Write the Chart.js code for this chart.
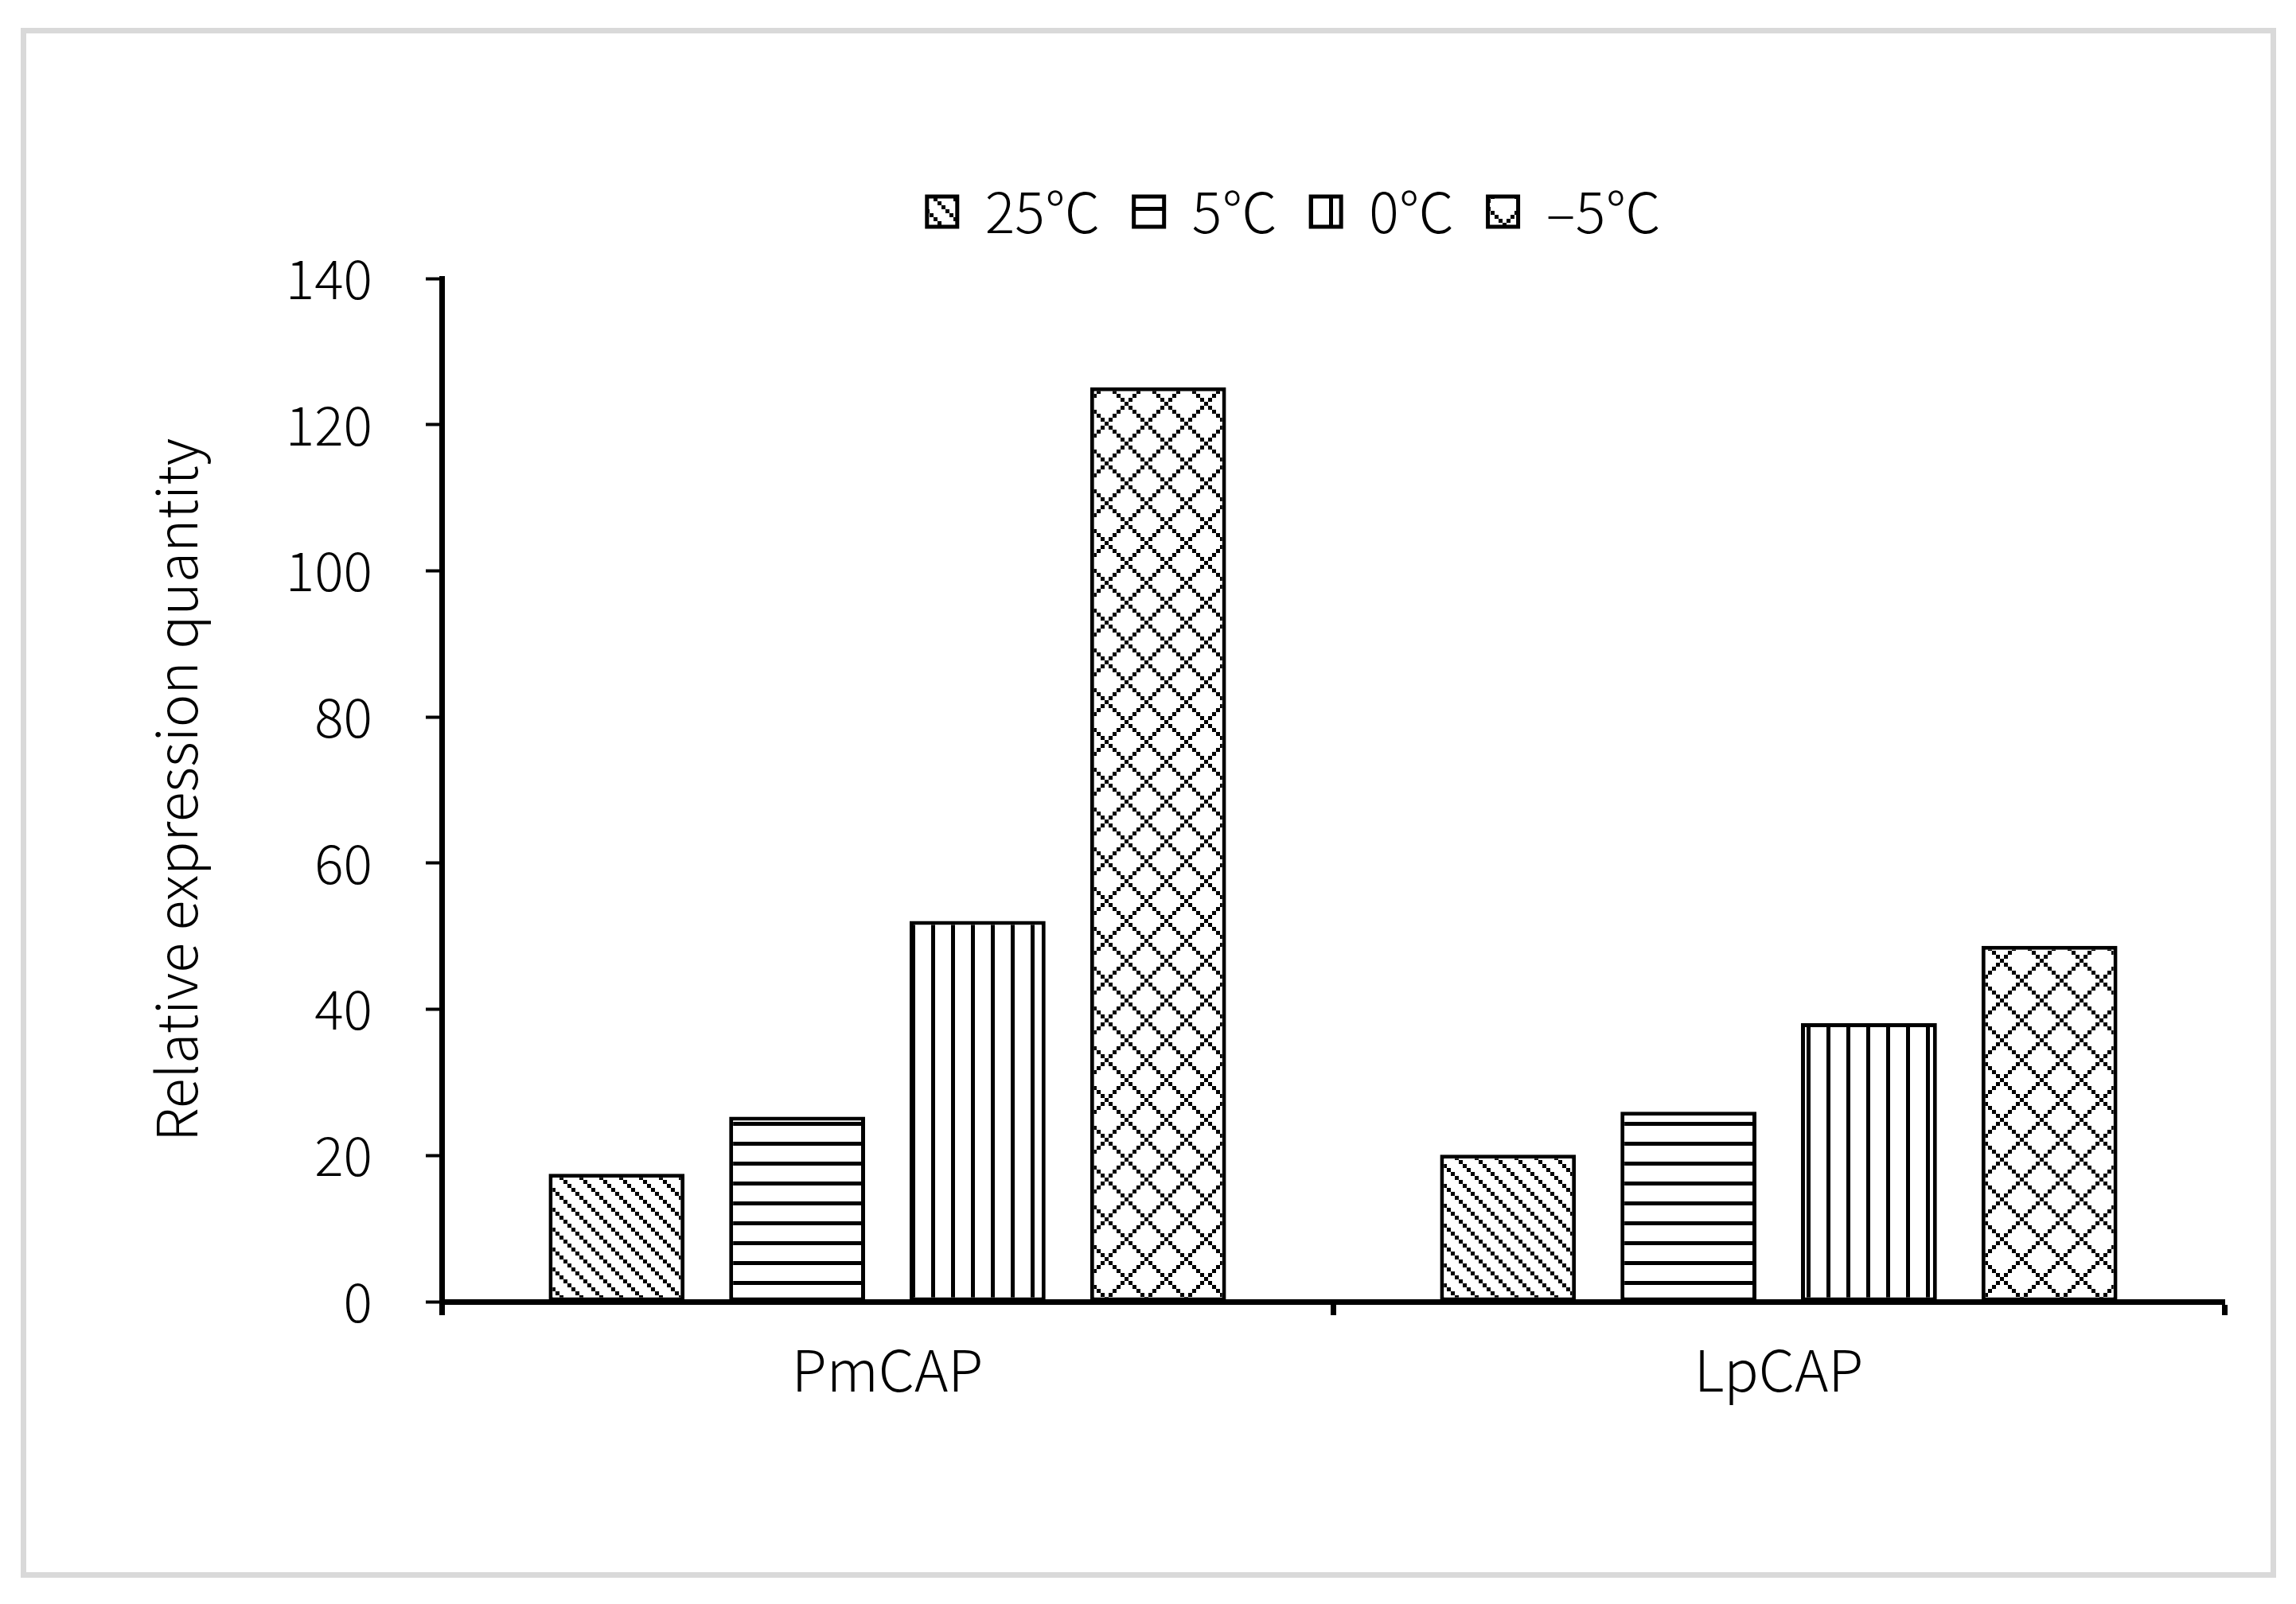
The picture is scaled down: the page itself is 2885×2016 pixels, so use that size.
<!DOCTYPE html>
<html>
<head>
<meta charset="utf-8">
<script src="https://cdn.jsdelivr.net/npm/chart.js@4.4.1/dist/chart.umd.min.js"></script>
<style>
  html, body { margin: 0; padding: 0; background: #fff; }
  body { width: 2885px; height: 2016px; position: relative; overflow: hidden; }
  #frame {
    position: absolute; left: 26px; top: 35px; width: 2834px; height: 1948px;
    box-sizing: border-box; border: 7px solid #d9d9d9;
  }
  #myCanvas { position: absolute; left: 0; top: 0; }
</style>
</head>
<body>
<div id="frame"></div>
<canvas id="myCanvas" width="2885" height="2016"></canvas>
<script>
// data
const categories = ["PmCAP", "LpCAP"];
const seriesNames = ["25℃", "5℃", "0℃", "–5℃"];
const val25 = [17.5, 20.1];
const val5 = [25.3, 26.0];
const val0 = [52.1, 38.1];
const valMinus5 = [125.1, 48.7];
const yTicks = [0, 20, 40, 60, 80, 100, 120, 140];
const yTitle = "Relative expression quantity";

// black & white fill patterns
function makePattern(kind) {
  const size = kind === "diamond" ? 50 : 25;
  const c = document.createElement("canvas");
  c.width = size; c.height = size;
  const g = c.getContext("2d");
  g.fillStyle = "#fff";
  g.fillRect(0, 0, size, size);
  g.fillStyle = "#000";
  const dot = (x, y) => {
    for (const ox of [-size, 0, size])
      for (const oy of [-size, 0, size])
        g.fillRect(Math.round(x - 2.5 + ox), Math.round(y - 2.5 + oy), 5, 5);
  };
  if (kind === "diag") {
    for (let k = 0; k < 5; k++) dot(k * 5, k * 5);
  } else if (kind === "hline") {
    g.fillRect(0, 10, size, 5);
  } else if (kind === "vline") {
    g.fillRect(20, 0, 5, size);
  } else if (kind === "diamond") {
    for (let k = 0; k < 10; k++) {
      dot(k * 5, k * 5);
      dot(size - k * 5, k * 5);
    }
  }
  const p = document.getElementById("myCanvas").getContext("2d").createPattern(c, "repeat");
  if (kind === "diamond" && p.setTransform) p.setTransform(new DOMMatrix().translate(-10, 32));
  return p;
}

const patterns = [makePattern("diag"), makePattern("hline"), makePattern("vline"), makePattern("diamond")];
const seriesValues = [val25, val5, val0, valMinus5];

// move the legend to where it sits in the figure
const legendPlace = {
  id: "legendPlace",
  afterLayout(chart) {
    const lg = chart.legend;
    const pad = lg.options.labels.padding;
    const fs = lg.options.labels.font.size;
    const dx = 1626 - (lg.left + lg.right) / 2;
    const dy = 266 - (lg.top + pad + fs / 2);
    lg.left += dx; lg.right += dx;
    lg.top += dy; lg.bottom += dy;
  }
};

Chart.defaults.font.family = "'Noto Sans CJK SC', 'Noto Sans', sans-serif";
Chart.defaults.font.weight = 300;
Chart.defaults.color = "#000";

new Chart(document.getElementById("myCanvas").getContext("2d"), {
  type: "bar",
  data: {
    labels: categories,
    datasets: seriesNames.map((name, i) => ({
      label: name,
      data: seriesValues[i],
      backgroundColor: patterns[i],
      borderColor: "#000",
      borderWidth: 5,
      borderSkipped: false
    }))
  },
  options: {
    responsive: false,
    devicePixelRatio: 1,
    animation: false,
    categoryPercentage: 0.81,
    barPercentage: 0.753,
    layout: { padding: { left: 179, right: 90, top: 228, bottom: 230 } },
    plugins: {
      tooltip: { enabled: false },
      legend: {
        position: "top",
        labels: {
          font: { size: 70, weight: 300 },
          boxWidth: 38,
          boxHeight: 38,
          padding: 42,
          color: "#000"
        }
      }
    },
    scales: {
      x: {
        grid: { drawOnChartArea: false, drawTicks: true, tickLength: 17, tickWidth: 7, tickColor: "#000", offset: true },
        border: { color: "#000", width: 7 },
        ticks: { font: { size: 72, weight: 300 }, padding: 25, color: "#000" },
        afterFit(scale) { scale.height = 150; }
      },
      y: {
        min: yTicks[0],
        max: yTicks[yTicks.length - 1],
        afterBuildTicks(scale) { scale.ticks = yTicks.map(v => ({ value: v })); },
        grid: { drawOnChartArea: false, drawTicks: true, tickLength: 20, tickWidth: 4, tickColor: "#000" },
        border: { color: "#000", width: 7 },
        ticks: { font: { size: 68, weight: 300 }, padding: 67, color: "#000" },
        title: { display: true, text: yTitle, font: { size: 70, weight: 300 }, padding: { top: 0, bottom: 4 }, color: "#000" },
        afterFit(scale) { scale.width = 376; }
      }
    }
  },
  plugins: [legendPlace]
});
</script>
</body>
</html>
